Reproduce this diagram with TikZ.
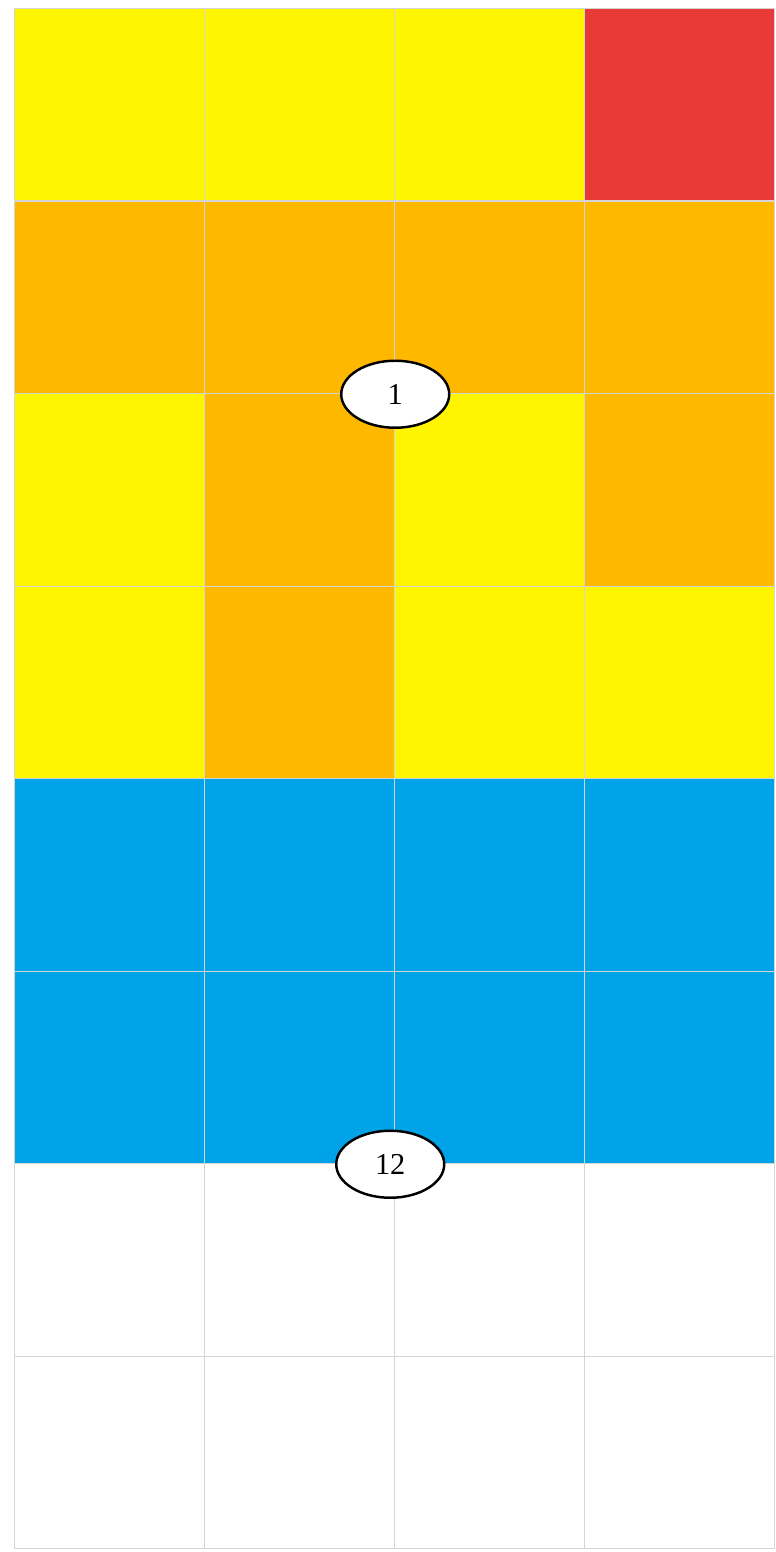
\documentclass[tikz,border=0pt]{standalone}
\usepackage{fontspec}
\setmainfont{Liberation Serif}
\usepackage{xcolor}
\usepackage{tikz}
\usetikzlibrary{positioning, shapes.geometric}

\definecolor{cy}{HTML}{FFF500}
\definecolor{co}{HTML}{FFB800}
\definecolor{cr}{HTML}{E83A36}
\definecolor{cb}{HTML}{00A2E8}
\definecolor{cw}{HTML}{FFFFFF}

\begin{document}
\begin{tikzpicture}[
    cell/.style={draw=black!17, line width=0.7pt, minimum width=3.8cm, minimum height=3.85cm, inner sep=0pt, anchor=north west},
    tag/.style={draw, ellipse, line width=1.4pt, fill=white, minimum width=2.16cm, minimum height=1.34cm, inner sep=0pt, font=\LARGE}
]
\useasboundingbox (-0.28,0.16) rectangle (15.22,-30.88);

\foreach \row [count=\r] in {{cy,cy,cy,cr},{co,co,co,co},{cy,co,cy,co},{cy,co,cy,cy},{cb,cb,cb,cb},{cb,cb,cb,cb},{cw,cw,cw,cw},{cw,cw,cw,cw}}
    \foreach \f [count=\c] in \row
        \node[cell, fill=\f] (c\r\c) at ({(\c-1)*3.8},{-(\r-1)*3.85}) {};

\node[tag] (one) at (c22.south east) {1};
\node[tag] (twelve) at ([xshift=-0.1cm]c62.south east) {12};

\end{tikzpicture}
\end{document}
